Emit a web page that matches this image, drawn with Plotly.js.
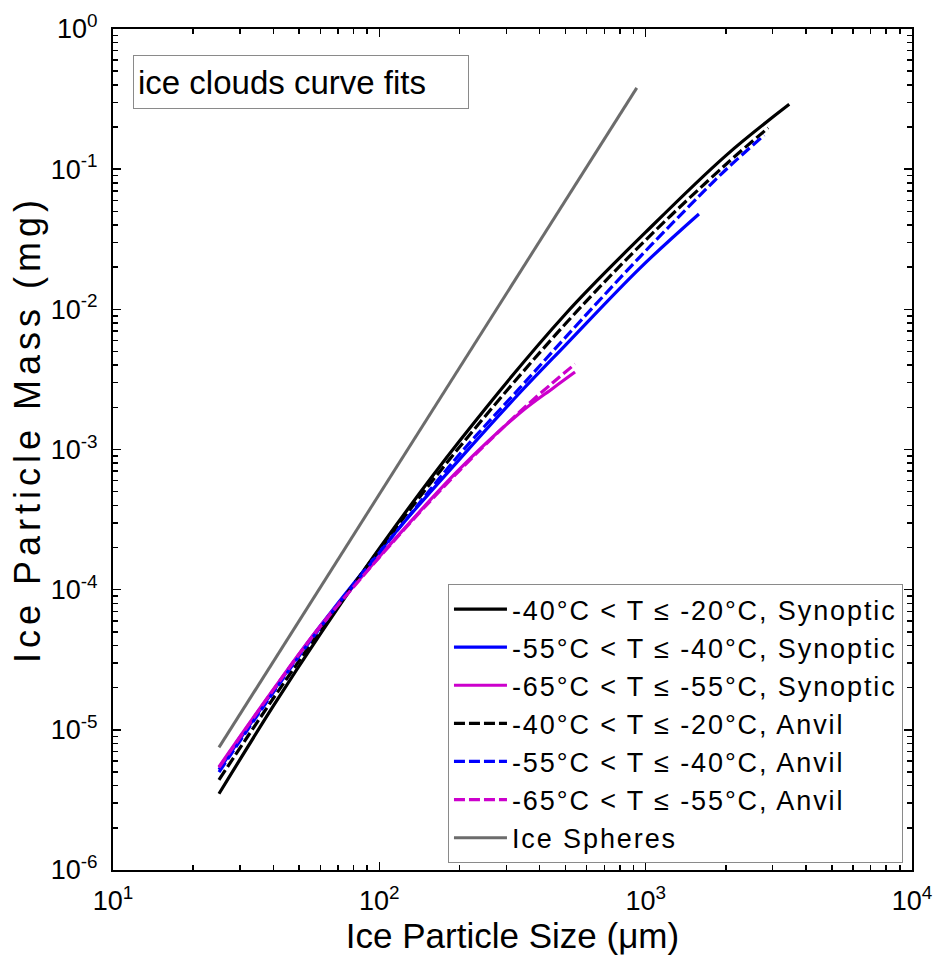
<!DOCTYPE html>
<html>
<head>
<meta charset="utf-8">
<script src="https://cdn.plot.ly/plotly-3.0.1.min.js"></script>
<style>
  html, body { margin: 0; padding: 0; background: #fff; }
  #chart { width: 935px; height: 960px; }
  .legendtext { letter-spacing: 1.9px; }
  g.annotation[data-index="1"] text { letter-spacing: 5px; }
</style>
</head>
<body>
<div id="chart"></div>
<script>
// ---- Data ----
// -40°C < T <= -20°C, Synoptic
const sizeS1 = [25, 40, 60, 100, 200, 500, 1000, 2000, 3460];
const massS1 = [3.5e-6, 1.48e-5, 4.81e-5, 1.97e-4, 1.15e-3, 9.27e-3, 3.55e-2, 0.125, 0.29];
// -55°C < T <= -40°C, Synoptic
const sizeS2 = [25, 40, 60, 120, 200, 337, 500, 952, 1585];
const massS2 = [5.19e-6, 1.90e-5, 5.50e-5, 2.82e-4, 8.51e-4, 2.54e-3, 5.56e-3, 1.97e-2, 4.79e-2];
// -65°C < T <= -55°C, Synoptic
const sizeS3 = [25, 40, 60, 120, 200, 337, 450, 543];
const massS3 = [5.45e-6, 1.94e-5, 5.50e-5, 2.54e-4, 7.24e-4, 1.82e-3, 2.75e-3, 3.57e-3];
// -40°C < T <= -20°C, Anvil
const sizeA1 = [25, 40, 60, 100, 200, 500, 1000, 2000, 2884];
const massA1 = [4.4e-6, 1.68e-5, 5.09e-5, 1.93e-4, 1.04e-3, 7.89e-3, 3.12e-2, 0.108, 0.197];
// -55°C < T <= -40°C, Anvil
const sizeA2 = [25, 40, 60, 120, 200, 337, 500, 952, 1600, 2000, 2786];
const massA2 = [5.0e-6, 1.85e-5, 5.37e-5, 2.82e-4, 9.23e-4, 2.75e-3, 6.31e-3, 2.37e-2, 6.52e-2, 9.91e-2, 0.175];
// -65°C < T <= -55°C, Anvil
const sizeA3 = [25, 40, 60, 120, 200, 337, 450, 543];
const massA3 = [5.37e-6, 1.93e-5, 5.43e-5, 2.51e-4, 7.08e-4, 1.86e-3, 3.02e-3, 4.07e-3];
// Ice spheres
const sizeSph = [25, 926];
const massSph = [7.5e-6, 0.38];

const seriesNames = [
  '-40°C < T ≤ -20°C, Synoptic',
  '-55°C < T ≤ -40°C, Synoptic',
  '-65°C < T ≤ -55°C, Synoptic',
  '-40°C < T ≤ -20°C, Anvil',
  '-55°C < T ≤ -40°C, Anvil',
  '-65°C < T ≤ -55°C, Anvil',
  'Ice Spheres'
];

const xTickVals = [10, 100, 1000, 10000];
const xTickText = ['10<sup>1</sup>', '10<sup>2</sup>', '10<sup>3</sup>', '10<sup>4</sup>'];
const yTickVals = [1e-6, 1e-5, 1e-4, 1e-3, 1e-2, 1e-1, 1];
const yTickText = ['10<sup>-6</sup>', '10<sup>-5</sup>', '10<sup>-4</sup>', '10<sup>-3</sup>',
                   '10<sup>-2</sup>', '10<sup>-1</sup>', '10<sup>0</sup>'];

const boxLabel = 'ice clouds curve fits';
const xTitle = 'Ice Particle Size (μm)';
const yTitle = 'Ice Particle Mass (mg)';

// ---- Build ----
function minorTicks(startExp, endExp) {
  const out = [];
  for (let e = startExp; e < endExp; e++) {
    for (let k = 2; k <= 9; k++) out.push(k * Math.pow(10, e));
  }
  return out;
}

const FONT = 'Liberation Sans, Arial, Helvetica, sans-serif';
const dashPat = '11px,4px';
const MAG = '#cc00cc';

function tr(x, y, name, color, dash, width) {
  return {
    x: x, y: y, name: name, type: 'scatter', mode: 'lines',
    line: { color: color, width: width || 3.2, dash: dash || 'solid', shape: 'spline', smoothing: 1 },
    hoverinfo: 'skip'
  };
}

const data = [
  tr(sizeS1, massS1, seriesNames[0], '#000000'),
  tr(sizeS2, massS2, seriesNames[1], '#0000ff'),
  tr(sizeS3, massS3, seriesNames[2], MAG),
  tr(sizeA1, massA1, seriesNames[3], '#000000', dashPat),
  tr(sizeA2, massA2, seriesNames[4], '#0000ff', dashPat),
  tr(sizeA3, massA3, seriesNames[5], MAG, dashPat),
  tr(sizeSph, massSph, seriesNames[6], '#6c6c6c', 'solid', 3)
];

const axisCommon = {
  type: 'log',
  showgrid: false,
  zeroline: false,
  showline: true,
  linecolor: '#000',
  linewidth: 2,
  mirror: 'ticks',
  ticks: 'inside',
  ticklen: 8,
  tickwidth: 1.5,
  tickcolor: '#000',
  tickmode: 'array',
  tickfont: { family: FONT, size: 27, color: '#000' }
};

const layout = {
  width: 935,
  height: 960,
  margin: { l: 113, r: 23, t: 29, b: 90 },
  paper_bgcolor: '#fff',
  plot_bgcolor: '#fff',
  font: { family: FONT, color: '#000' },
  showlegend: true,
  xaxis: Object.assign({}, axisCommon, {
    range: [1, 4],
    tickvals: xTickVals,
    ticktext: xTickText,
    ticklabelstandoff: 6,
    minor: { tickmode: 'array', tickvals: minorTicks(1, 4), ticks: 'inside', ticklen: 5, tickwidth: 1.5, tickcolor: '#000' },
    title: { text: xTitle, font: { family: FONT, size: 35, color: '#000' }, standoff: 0 }
  }),
  yaxis: Object.assign({}, axisCommon, {
    range: [-6, 0],
    tickvals: yTickVals,
    ticktext: yTickText,
    ticklabelstandoff: 8,
    minor: { tickmode: 'array', tickvals: minorTicks(-6, 0), ticks: 'inside', ticklen: 5, tickwidth: 1.5, tickcolor: '#000' }
  }),
  legend: {
    x: 0.9887, y: 0.0083, xanchor: 'right', yanchor: 'bottom',
    bgcolor: '#fff', bordercolor: '#8a8a8a', borderwidth: 1,
    font: { family: FONT, size: 27, color: '#000' },
    tracegroupgap: 0, itemwidth: 53
  },
  annotations: [{
    xref: 'paper', yref: 'paper', x: 0.025, y: 0.9691, xanchor: 'left', yanchor: 'top',
    text: boxLabel, showarrow: false, align: 'left', valign: 'middle',
    font: { family: FONT, size: 33, color: '#000' },
    bordercolor: '#8a8a8a', borderwidth: 1, borderpad: 4, bgcolor: '#fff',
    width: 326, height: 44
  }, {
    xref: 'paper', yref: 'paper', x: -0.1064, y: 0.5244, xanchor: 'center', yanchor: 'middle',
    text: yTitle, showarrow: false, textangle: -90,
    font: { family: FONT, size: 36, color: '#000' }
  }]
};

Plotly.newPlot('chart', data, layout, { staticPlot: true, displayModeBar: false });
</script>
</body>
</html>
